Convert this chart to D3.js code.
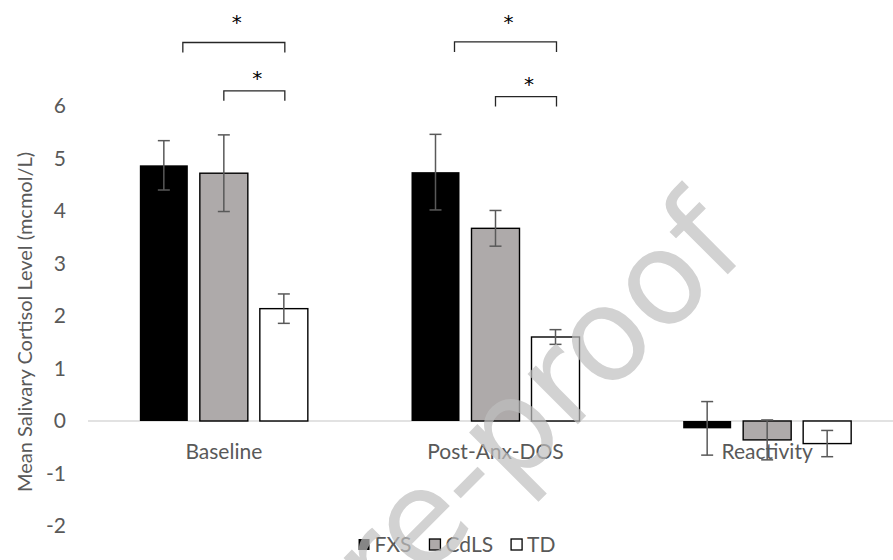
<!DOCTYPE html>
<html>
<head>
<meta charset="utf-8">
<script src="https://cdn.jsdelivr.net/npm/d3@7"></script>
<style>
  html, body { margin: 0; padding: 0; background: #fff; }
  svg text { font-family: Lato, "Open Sans", sans-serif; }
</style>
</head>
<body>
<div id="chart"></div>
<script>
const WIDTH = 893;
const HEIGHT = 560;

// data
const categories = ["Baseline", "Post-Anx-DOS", "Reactivity"];
const seriesNames = ["FXS", "CdLS", "TD"];
const fxsMeans = [4.87, 4.74, -0.14];
const fxsErr = [0.47, 0.72, 0.51];
const cdlsMeans = [4.72, 3.67, -0.36];
const cdlsErr = [0.73, 0.34, 0.38];
const tdMeans = [2.14, 1.60, -0.43];
const tdErr = [0.28, 0.14, 0.25];
const yTicks = [-2, -1, 0, 1, 2, 3, 4, 5, 6];
// significance brackets: category, left series, right series, height (y units)
const brackets = [
  { cat: "Baseline", from: "FXS", to: "TD", level: 7.21 },
  { cat: "Baseline", from: "CdLS", to: "TD", level: 6.29 },
  { cat: "Post-Anx-DOS", from: "FXS", to: "TD", level: 7.22 },
  { cat: "Post-Anx-DOS", from: "CdLS", to: "TD", level: 6.18 }
];

const fills = { FXS: "#000000", CdLS: "#aeaaaa", TD: "#ffffff" };
const meansBy = { FXS: fxsMeans, CdLS: cdlsMeans, TD: tdMeans };
const errBy = { FXS: fxsErr, CdLS: cdlsErr, TD: tdErr };

let rows = [];
seriesNames.forEach(function(s) {
  categories.forEach(function(c, i) {
    rows.push({ series: s, cat: c, value: meansBy[s][i], err: errBy[s][i] });
  });
});

let svg = d3.select("#chart").append("svg")
    .attr("width", WIDTH)
    .attr("height", HEIGHT);

// scales
let x0 = d3.scaleBand().domain(categories).range([88, 903]);
let groupW = 168;
let x1 = d3.scaleBand().domain(seriesNames).range([0, groupW]).paddingInner(0.2);
let y = d3.scaleLinear().domain([-2, 6]).range([526, 106]);
function barX(d) { return x0(d.cat) + (x0.bandwidth() - groupW) / 2 + x1(d.series); }
function barCenter(cat, s) { return x0(cat) + (x0.bandwidth() - groupW) / 2 + x1(s) + x1.bandwidth() / 2; }

// y axis (no line, just labels)
let yAxis = d3.axisLeft(y).tickValues(yTicks).tickSize(0).tickPadding(0)
    .tickFormat(function(d) { return d < 0 ? "-" + Math.abs(d) : d; });
let yG = svg.append("g")
    .attr("class", "y axis")
    .attr("transform", "translate(66,0)")
    .call(yAxis);
yG.select(".domain").remove();
yG.selectAll("text")
    .style("font-size", "21px")
    .style("fill", "#595959");

// axis title
svg.append("text")
    .attr("transform", "translate(25,322) rotate(-90)")
    .attr("text-anchor", "middle")
    .attr("dy", "0.35em")
    .style("font-size", "20px")
    .style("fill", "#595959")
    .text("Mean Salivary Cortisol Level (mcmol/L)");

// zero line
svg.append("line")
    .attr("x1", x0.range()[0])
    .attr("x2", x0.range()[1])
    .attr("y1", y(0))
    .attr("y2", y(0))
    .attr("stroke", "#d9d9d9")
    .attr("stroke-width", 1.5);

// bars
svg.append("g").selectAll("rect")
    .data(rows)
  .enter().append("rect")
    .attr("x", barX)
    .attr("width", x1.bandwidth())
    .attr("y", function(d) { return y(Math.max(0, d.value)); })
    .attr("height", function(d) { return Math.abs(y(d.value) - y(0)); })
    .attr("fill", function(d) { return fills[d.series]; })
    .attr("stroke", "#000")
    .attr("stroke-width", function(d) { return d.series === "FXS" ? 0 : 1.4; });

// error bars
let errG = svg.append("g")
    .attr("stroke", "#595959")
    .attr("stroke-width", 1.5);
rows.forEach(function(d) {
  let cx = barX(d) + x1.bandwidth() / 2;
  errG.append("line")
      .attr("x1", cx).attr("x2", cx)
      .attr("y1", y(d.value + d.err)).attr("y2", y(d.value - d.err));
  [d.value + d.err, d.value - d.err].forEach(function(v) {
    errG.append("line")
        .attr("x1", cx - 6).attr("x2", cx + 6)
        .attr("y1", y(v)).attr("y2", y(v));
  });
});

// category labels
svg.append("g").selectAll("text")
    .data(categories)
  .enter().append("text")
    .attr("x", function(d) { return x0(d) + x0.bandwidth() / 2; })
    .attr("y", y(0) + 31)
    .attr("dy", "0.35em")
    .attr("text-anchor", "middle")
    .style("font-size", "21px")
    .style("fill", "#595959")
    .text(function(d) { return d; });

// significance brackets
let brG = svg.append("g");
brackets.forEach(function(b) {
  let left = barCenter(b.cat, b.from);
  let outer = b.from === "FXS";
  if (outer) left += 19;
  let right = barCenter(b.cat, b.to) + 1;
  let top = y(b.level);
  brG.append("path")
      .attr("d", "M" + left + "," + (top + 10) + "V" + top + "H" + right + "V" + (top + 10))
      .attr("fill", "none")
      .attr("stroke", "#262626")
      .attr("stroke-width", 1.3);
  brG.append("text")
      .attr("x", (left + right) / 2 + 3)
      .attr("y", top - (outer ? 13 : 6))
      .attr("text-anchor", "middle")
      .style("font-family", "'DejaVu Sans', sans-serif")
      .style("font-size", "20px")
      .style("fill", "#000")
      .text("*");
});

// legend
let legend = svg.append("g").attr("class", "legend");
let lx = 0;
seriesNames.forEach(function(s) {
  let item = legend.append("g").attr("transform", "translate(" + lx + ",0)");
  item.append("rect")
      .attr("x", 0).attr("y", -6)
      .attr("width", 11).attr("height", 11)
      .attr("fill", fills[s])
      .attr("stroke", "#000")
      .attr("stroke-width", s === "FXS" ? 0 : 1.3);
  let t = item.append("text")
      .attr("x", 16)
      .attr("dy", "0.35em")
      .style("font-size", "21px")
      .style("fill", "#595959")
      .text(s);
  lx += 16 + t.node().getComputedTextLength() + 18;
});
lx -= 18;
legend.attr("transform", "translate(" + (457 - lx / 2) + ",545)");

// watermark
svg.append("text")
    .attr("transform", "translate(750,252) rotate(-45)")
    .attr("text-anchor", "end")
    .style("font-family", "'DejaVu Sans', sans-serif")
    .style("font-size", "130px")
    .style("fill", "#bfbfbf")
    .style("opacity", 0.7)
    .text("Journal Pre-proof");
</script>
</body>
</html>
